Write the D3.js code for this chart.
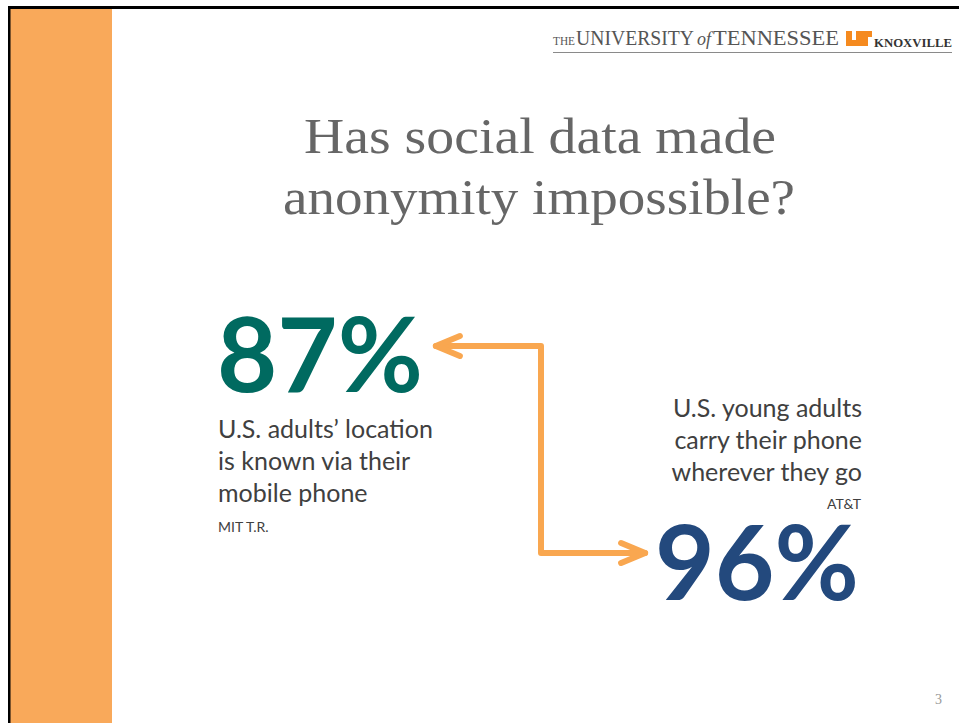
<!DOCTYPE html>
<html>
<head>
<meta charset="utf-8">
<script src="https://cdn.jsdelivr.net/npm/d3@7"></script>
<style>
  html, body { margin: 0; padding: 0; background: #fff; }
  svg { display: block; }
</style>
</head>
<body>
<svg id="slide" width="959" height="723"></svg>
<script>
// Slide content
const titleLines = ["Has social data made", "anonymity impossible?"];
const statValues = [87, 96];
const statColors = ["#006A60", "#23497D"];
const statCaptions = [
  ["U.S. adults\u2019 location", "is known via their", "mobile phone"],
  ["U.S. young adults", "carry their phone", "wherever they go"]
];
const statSources = ["MIT T.R.", "AT&T"];
const pageNumber = "3";

const W = 959, H = 723;
const svg = d3.select("#slide");

// Frame: black top/left rule and orange side panel
svg.append("rect").attr("x", 0).attr("y", 0).attr("width", W).attr("height", H).attr("fill", "#fff");
svg.append("rect").attr("x", 10).attr("y", 8).attr("width", 102).attr("height", H - 8).attr("fill", "#F9A95A");
svg.append("rect").attr("x", 8).attr("y", 6).attr("width", W - 8).attr("height", 3).attr("fill", "#000");
svg.append("rect").attr("x", 8).attr("y", 6).attr("width", 2.5).attr("height", H - 6).attr("fill", "#000");

// University wordmark
const hdr = svg.append("g").attr("fill", "#555").attr("font-family", "Liberation Serif, serif");
hdr.append("text").attr("x", 553).attr("y", 45).attr("font-size", 13).attr("textLength", 22).attr("lengthAdjust", "spacingAndGlyphs").text("THE");
hdr.append("text").attr("x", 576).attr("y", 45).attr("font-size", 22).attr("textLength", 118).attr("lengthAdjust", "spacingAndGlyphs").text("UNIVERSITY");
hdr.append("text").attr("x", 697).attr("y", 45).attr("font-size", 18).attr("font-style", "italic").attr("textLength", 14).attr("lengthAdjust", "spacingAndGlyphs").text("of");
hdr.append("text").attr("x", 713).attr("y", 45).attr("font-size", 22).attr("textLength", 126).attr("lengthAdjust", "spacingAndGlyphs").text("TENNESSEE");
hdr.append("text").attr("x", 874).attr("y", 47).attr("font-size", 13).attr("font-weight", "bold").attr("fill", "#333").attr("textLength", 78).attr("lengthAdjust", "spacingAndGlyphs").text("KNOXVILLE");
// UT mark
const ut = svg.append("g").attr("fill", "#F58A1F");
ut.append("path").attr("d", "M846,31 L852,31 L852,40 L856,40 L856,31 L862,31 L862,46 L846,46 Z");
ut.append("path").attr("d", "M858,31 L872,31 L872,37 L868,37 L868,46 L862,46 L862,37 L858,37 Z");
svg.append("line").attr("x1", 553).attr("x2", 952).attr("y1", 52.5).attr("y2", 52.5).attr("stroke", "#8a8a8a").attr("stroke-width", 1);

// Title
const titleX = [[304, 472], [283, 512]];
svg.append("g").selectAll("text").data(titleLines).join("text")
  .attr("x", (d, i) => titleX[i][0]).attr("y", (d, i) => 153 + i * 61)
  .attr("textLength", (d, i) => titleX[i][1]).attr("lengthAdjust", "spacingAndGlyphs")
  .attr("font-family", "Liberation Serif, serif")
  .attr("font-size", 50)
  .attr("fill", "#666")
  .text(d => d);

const fmt = d3.format("d");
const sans = "Lato, 'Open Sans', sans-serif";

// Left stat
const left = svg.append("g");
const bigL = left.append("text").attr("x", 217).attr("y", 392)
  .attr("font-family", sans).attr("font-weight", "bold").attr("font-size", 104)
  .attr("fill", statColors[0]).text(fmt(statValues[0]) + "%");
left.selectAll("text.cap").data(statCaptions[0]).join("text").attr("class", "cap")
  .attr("x", 218).attr("y", (d, i) => 438 + i * 32)
  .attr("font-family", sans).attr("font-size", 25).attr("fill", "#404040").text(d => d);
left.append("text").attr("x", 218).attr("y", 532)
  .attr("font-family", sans).attr("font-size", 14).attr("fill", "#404040").text(statSources[0]);

// Right stat
const right = svg.append("g");
right.selectAll("text.cap").data(statCaptions[1]).join("text").attr("class", "cap")
  .attr("x", 862).attr("y", (d, i) => 417 + i * 32).attr("text-anchor", "end")
  .attr("font-family", sans).attr("font-size", 25).attr("fill", "#404040").text(d => d);
right.append("text").attr("x", 861).attr("y", 509).attr("text-anchor", "end")
  .attr("font-family", sans).attr("font-size", 14).attr("fill", "#404040").text(statSources[1]);
const bigR = right.append("text").attr("x", 859).attr("y", 600).attr("text-anchor", "end")
  .attr("font-family", sans).attr("font-weight", "bold").attr("font-size", 103)
  .attr("fill", statColors[1]).text(fmt(statValues[1]) + "%");

// Connector arrow between the two figures
const bL = bigL.node().getBBox(), bR = bigR.node().getBBox();
const yTop = 346, yBot = 553, xMid = 541;
const tipL = bL.x + bL.width + 13, tipR = bR.x - 10;
const arrow = svg.append("g").attr("fill", "none").attr("stroke", "#F9A750")
  .attr("stroke-width", 6).attr("stroke-linecap", "round").attr("stroke-linejoin", "round");
const line = d3.line();
arrow.append("path").attr("d", line([[tipL, yTop], [xMid, yTop], [xMid, yBot], [tipR, yBot]]));
arrow.append("path").attr("d", line([[tipL + 24, yTop - 10], [tipL, yTop], [tipL + 24, yTop + 10]]));
arrow.append("path").attr("d", line([[tipR - 24, yBot - 10], [tipR, yBot], [tipR - 24, yBot + 10]]));

// Page number
svg.append("text").attr("x", 942).attr("y", 704).attr("text-anchor", "end")
  .attr("font-family", "Liberation Serif, serif").attr("font-size", 14).attr("fill", "#999").text(pageNumber);
</script>
</body>
</html>
